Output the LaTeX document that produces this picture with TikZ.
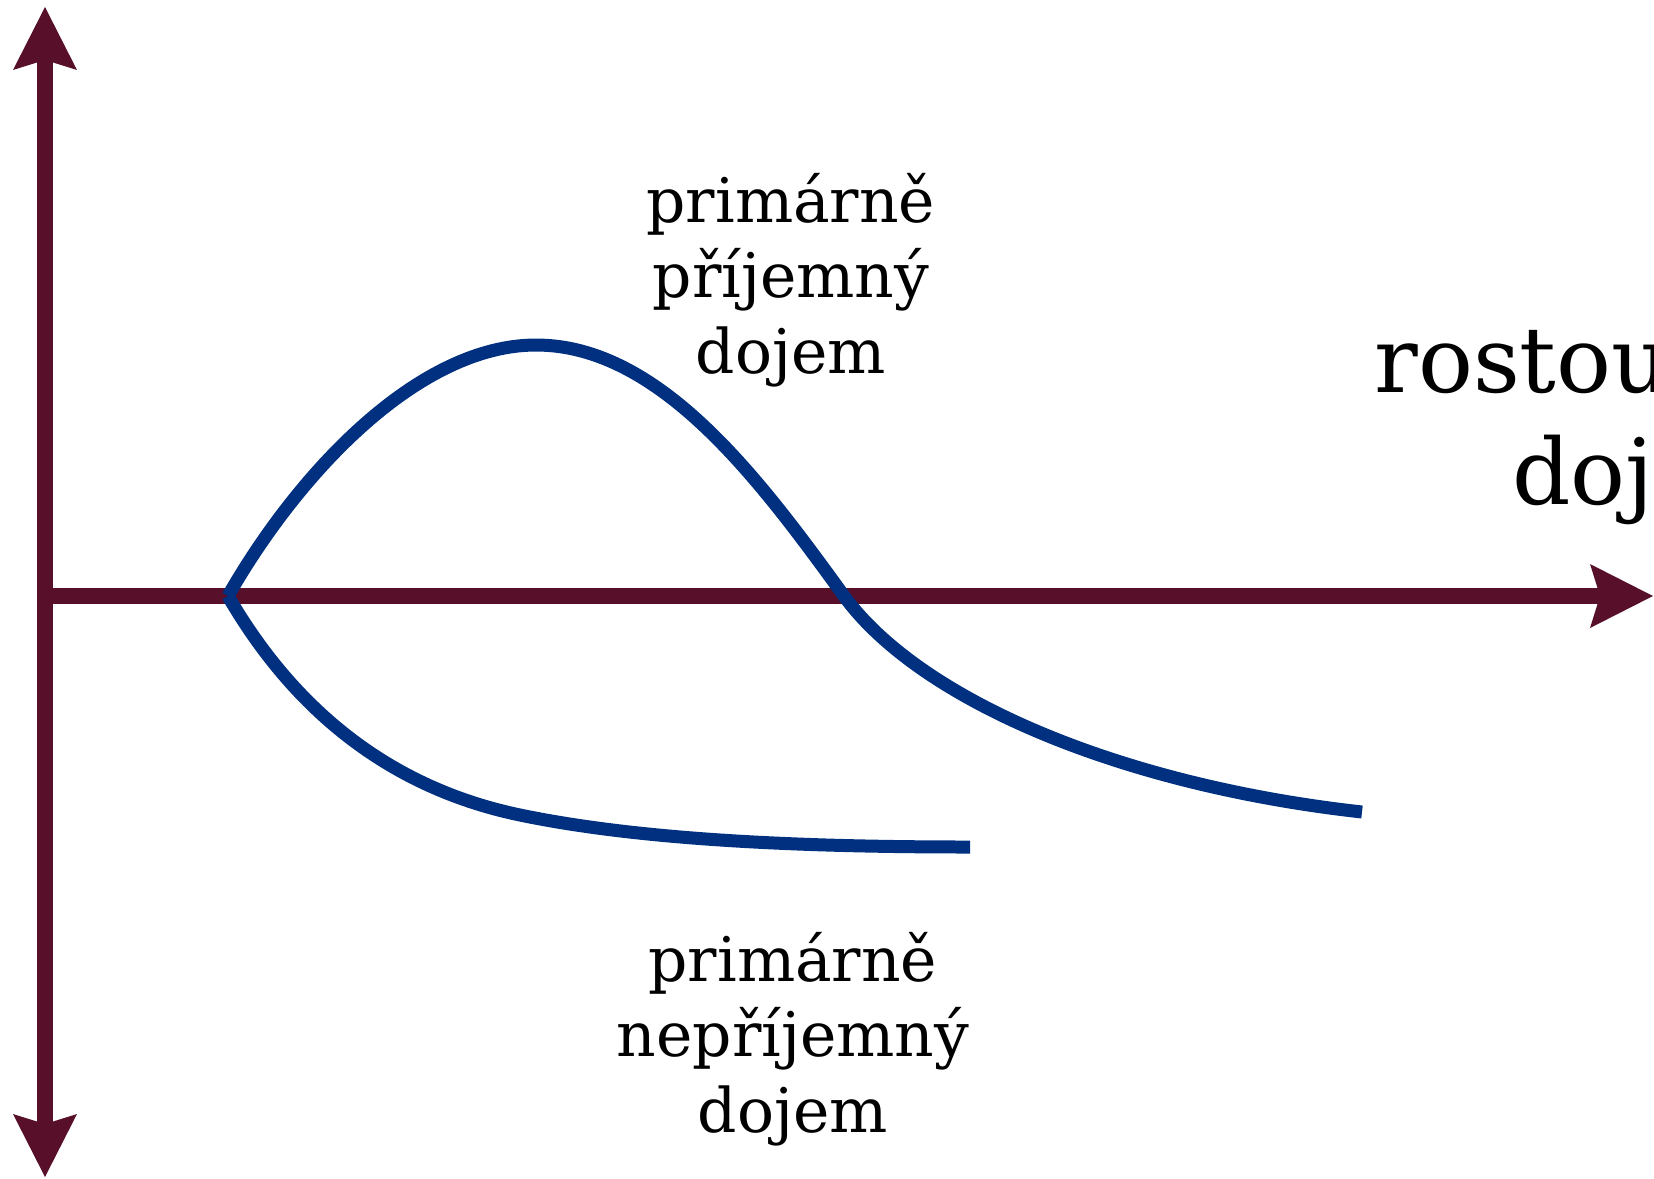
\documentclass[tikz,border=0pt]{standalone}
\usepackage{fontspec}
\setmainfont{DejaVu Serif}
\usetikzlibrary{arrows.meta,positioning}
\definecolor{axiscol}{RGB}{88,16,42}
\definecolor{curvecol}{RGB}{0,48,127}

\begin{document}
\begin{tikzpicture}[x=0.02cm,y=-0.02cm,
  >={Stealth[length=1.26cm,width=1.28cm,inset=0.2cm,line width=0pt]},
  axisline/.style={draw=axiscol,line width=0.32cm},
  curveline/.style={draw=curvecol,line width=0.26cm},
  tagtext/.style={align=center,inner sep=0pt,font=\fontsize{35}{43}\selectfont}]
\useasboundingbox (0,0) rectangle (1654,1178);
\clip (0,0) rectangle (1654,1178);

% axes
\coordinate (ytop) at (45,7);
\coordinate (ybot) at (45,1177);
\coordinate (xstart) at (45,596);
\coordinate (xend) at (1653,596);
\draw[axisline,<->] (ybot) -- (ytop);
\draw[axisline,->] (xstart) -- (xend);

% curves
\coordinate (start) at (228,596);
\coordinate (peak) at (536,345);
\coordinate (cross) at (844,596);
\coordinate (upend) at (1362,812);
\coordinate (lowmid) at (520,815);
\coordinate (lowend) at (970,847);
\draw[curveline] (start) .. controls (300,470) and (420,345) .. (peak)
  .. controls (660,345) and (760,480) .. (cross)
  .. controls (920,700) and (1120,785) .. (upend);
\draw[curveline] (start) .. controls (300,720) and (400,790) .. (lowmid)
  .. controls (640,840) and (800,847) .. (lowend);

% labels
\node[tagtext] (pleasant) at (791,280) {primárně\\příjemný\\dojem};
\node[tagtext] (unpleasant) at (793,1039) {primárně\\nepříjemný\\dojem};
\node[tagtext,font=\fontsize{52}{63.5}\selectfont,align=left,anchor=west] (growing) at (1374,422) {rostoucí\\\hspace*{2.76cm}dojem};
\end{tikzpicture}
\end{document}
